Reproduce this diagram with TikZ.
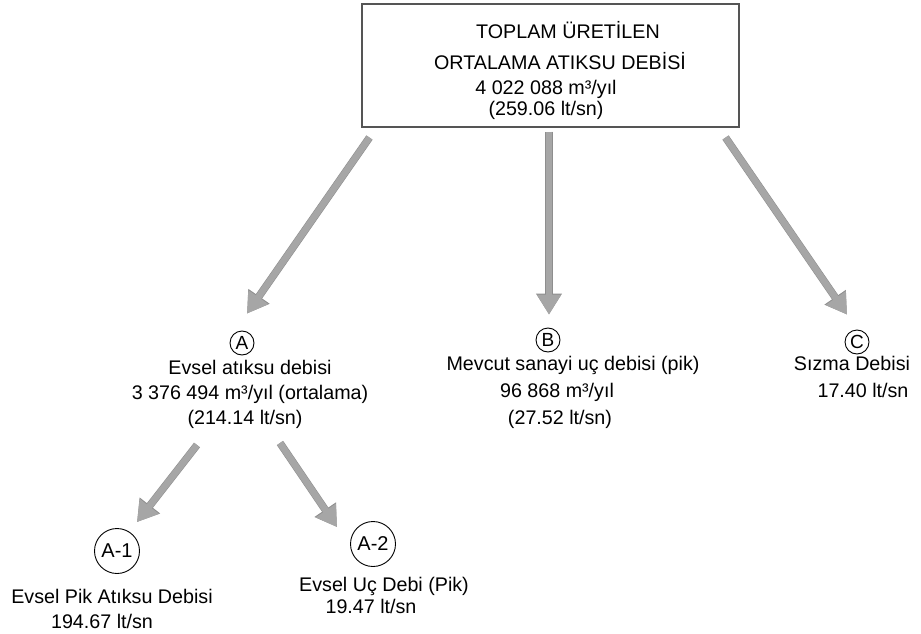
\documentclass[tikz,border=0pt]{standalone}
\usepackage{fontspec}
\setmainfont{Liberation Sans}
\usetikzlibrary{arrows.meta}
\definecolor{arrowgray}{HTML}{A6A6A6}
\definecolor{arrowedge}{HTML}{8E8E8E}
\definecolor{boxline}{HTML}{555555}
\tikzset{
  lbl/.style={anchor=base, inner sep=0pt, font=\fontsize{19.7}{24}\selectfont},
  smallcirc/.style={circle, draw=black, line width=0.9pt, inner sep=0pt, minimum size=24pt, font=\fontsize{19}{22}\selectfont},
  bigcirc/.style={circle, draw=black, line width=0.9pt, inner sep=0pt, minimum size=45pt, font=\fontsize{20}{24}\selectfont},
  fatarrow/.style={draw=arrowgray, line width=6.5pt, -{Triangle[width=23pt,length=20pt]},
    preaction={draw=arrowedge, line width=7.6pt, -{Triangle[width=24.5pt,length=21pt]}}},
}
\begin{document}
\begin{tikzpicture}[x=1pt,y=-1pt]
\path[use as bounding box, fill=white] (0,0) rectangle (921,634);

% top box
\node[draw=boxline, line width=1.1pt, minimum width=377pt, minimum height=123pt, inner sep=0pt] (box) at (550.5,65.5) {};
\node[lbl] (t1) at (568,39) {TOPLAM ÜRETİLEN};
\node[lbl] (t2) at (560,70) {ORTALAMA ATIKSU DEBİSİ};
\node[lbl] (t3) at (546,95) {4 022 088 m³/yıl};
\node[lbl] (t4) at (546,115) {(259.06 lt/sn)};

% A
\node[smallcirc] (cA) at (242,343) {A};
\node[lbl] (a1) at (250,374) {Evsel atıksu debisi};
\node[lbl] (a2) at (250,399) {3 376 494 m³/yıl (ortalama)};
\node[lbl] (a3) at (245,424) {(214.14 lt/sn)};

% B
\node[smallcirc] (cB) at (548,340) {B};
\node[lbl] (b1) at (573,370) {Mevcut sanayi uç debisi (pik)};
\node[lbl] (b2) at (557,397) {96 868 m³/yıl};
\node[lbl] (b3) at (560,424) {(27.52 lt/sn)};

% C
\node[smallcirc] (cC) at (857,342) {C};
\node[lbl] (c1) at (852,370) {Sızma Debisi};
\node[lbl] (c2) at (863,397) {17.40 lt/sn};

% A-1
\node[bigcirc] (cA1) at (117,551) {A-1};
\node[lbl] (d1) at (112,603) {Evsel Pik Atıksu Debisi};
\node[lbl] (d2) at (102,628) {194.67 lt/sn};

% A-2
\node[bigcirc] (cA2) at (373,544) {A-2};
\node[lbl] (e1) at (384,591) {Evsel Uç Debi (Pik)};
\node[lbl] (e2) at (371,613) {19.47 lt/sn};

% arrows
\draw[fatarrow] ([xshift=8pt,yshift=-10pt]box.south west) -- ([xshift=5pt,yshift=17pt]cA.north);
\draw[fatarrow] ([xshift=-1.5pt,yshift=-4pt]box.south) -- ([xshift=1pt,yshift=13pt]cB.north);
\draw[fatarrow] ([xshift=-14pt,yshift=-10pt]box.south east) -- ([xshift=-10pt,yshift=15pt]cC.north);
\draw[fatarrow] ([xshift=-45pt,yshift=-102pt]cA.center) -- ([xshift=20pt,yshift=6pt]cA1.north);
\draw[fatarrow] ([xshift=38pt,yshift=-100pt]cA.center) -- ([xshift=-36pt,yshift=-6pt]cA2.north);
\end{tikzpicture}
\end{document}
